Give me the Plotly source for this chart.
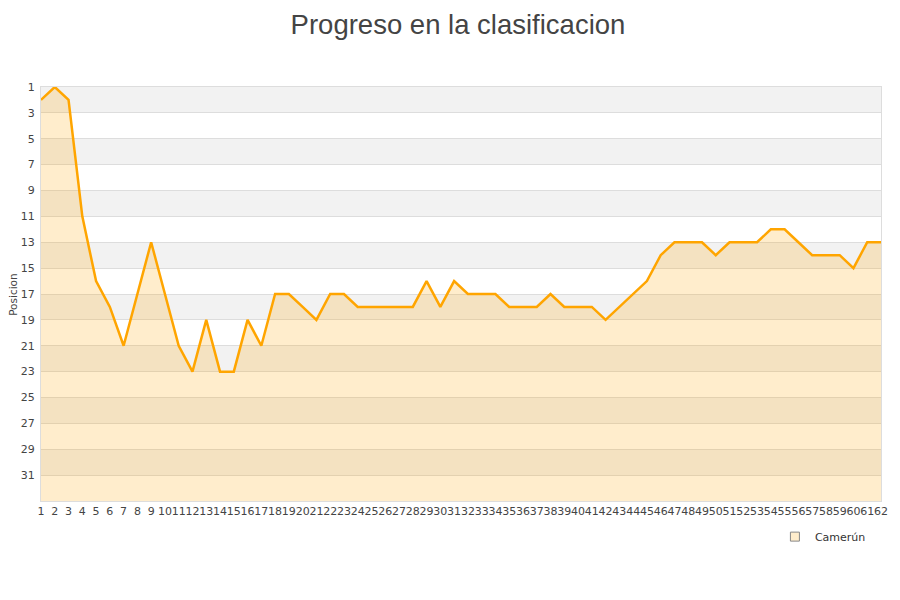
import plotly.graph_objects as go

# Data
jornadas = list(range(1, 63))
posicion = [2, 1, 2, 11, 16, 18, 21, 17, 13, 17,
            21, 23, 19, 23, 23, 19, 21, 17, 17, 18,
            19, 17, 17, 18, 18, 18, 18, 18, 16, 18,
            16, 17, 17, 17, 18, 18, 18, 17, 18, 18,
            18, 19, 18, 17, 16, 14, 13, 13, 13, 14,
            13, 13, 13, 12, 12, 13, 14, 14, 14, 15,
            13, 13]
equipo = "Camerún"
y_ticks = list(range(1, 32, 2))
n_equipos = 33

fig = go.Figure()

# baseline at the bottom so the area fills downward on a reversed axis
fig.add_trace(go.Scatter(x=jornadas, y=[n_equipos] * len(jornadas),
                         mode="lines", line=dict(width=0),
                         showlegend=False, hoverinfo="skip"))
fig.add_trace(go.Scatter(x=jornadas, y=posicion, mode="lines",
                         line=dict(color="#FFA500", width=2.5),
                         fill="tonexty", fillcolor="rgba(255,165,0,0.2)",
                         name=equipo, showlegend=False))
# legend marker
fig.add_trace(go.Scatter(x=[None], y=[None], mode="markers", name=equipo,
                         marker=dict(symbol="square", size=9, color="#FFEDCC",
                                     line=dict(color="#888", width=1))))

# alternating gray bands
shapes = []
for t in y_ticks[::2]:
    shapes.append(dict(type="rect", xref="paper", yref="y", x0=0, x1=1,
                       y0=t, y1=t + 2, fillcolor="#F2F2F2",
                       line=dict(width=0), layer="below"))

fig.update_layout(
    width=900, height=600,
    title=dict(text="Progreso en la clasificacion", x=0.5, y=0.972,
               xanchor="center", yanchor="middle",
               font=dict(family="Liberation Sans", size=27.5, color="#444")),
    font=dict(family="DejaVu Sans", size=11, color="#444"),
    plot_bgcolor="white", paper_bgcolor="white",
    margin=dict(l=33, r=27, t=79, b=107),
    shapes=shapes,
    legend=dict(orientation="h", x=0.988, xanchor="right", y=-0.051,
                yanchor="top", font=dict(size=11, color="#333"),
                bgcolor="rgba(0,0,0,0)"),
)
# y axis title as annotation so it sits left of the tick labels
fig.add_annotation(text="Posicion", xref="paper", yref="paper",
                   x=-0.0335, y=0.5, xanchor="center", yanchor="middle",
                   textangle=-90, showarrow=False,
                   font=dict(size=10.5, color="#444"))
fig.update_xaxes(range=[1, 62], tickmode="array", tickvals=jornadas,
                 showgrid=False, zeroline=False, ticks="", automargin=False,
                 showline=True, linecolor="#DDD", mirror=True,
                 tickfont=dict(size=11), tickangle=0)
fig.update_yaxes(range=[n_equipos, 1], tickmode="array", tickvals=y_ticks,
                 showgrid=True, gridcolor="#DDD", zeroline=False, ticks="",
                 showline=True, linecolor="#DDD", mirror=True, automargin=False,
                 ticklabelstandoff=3)

fig.write_html("out.html")
